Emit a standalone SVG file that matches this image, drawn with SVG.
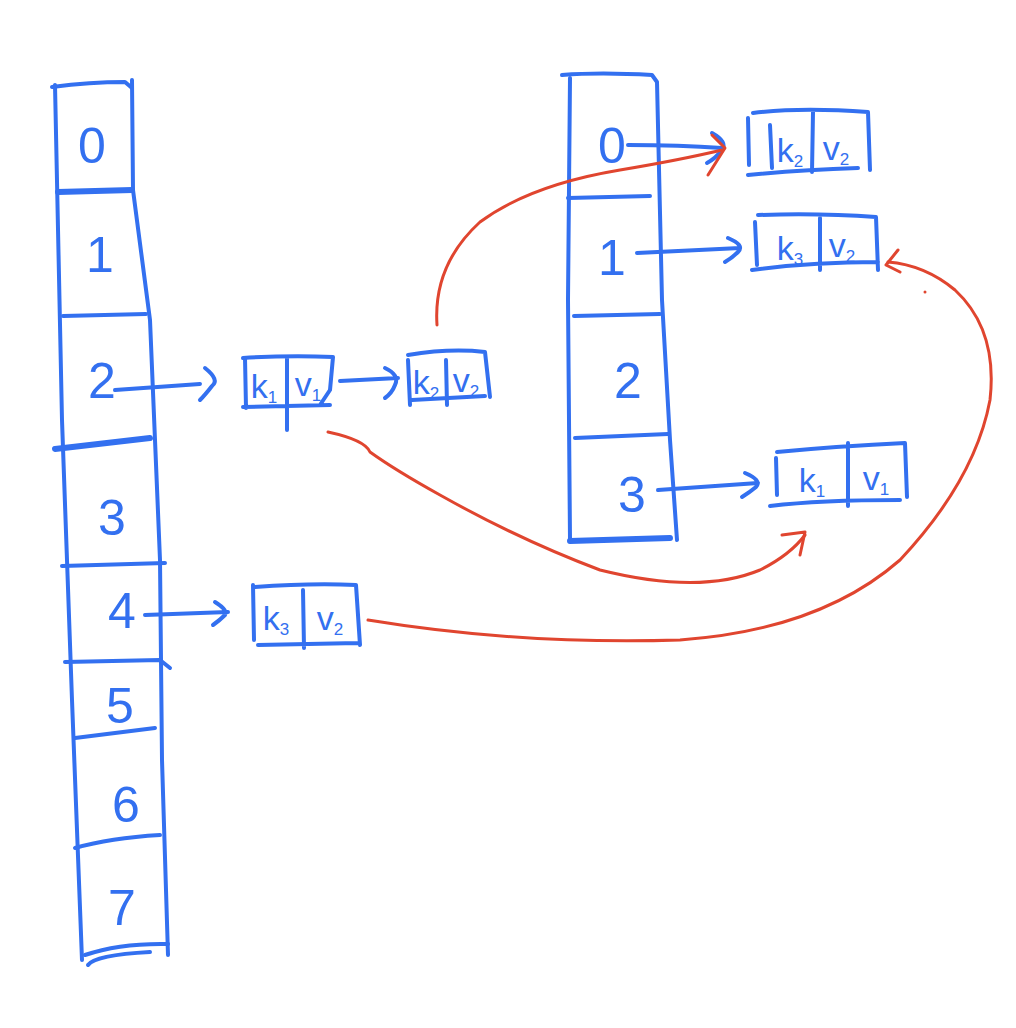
<svg xmlns="http://www.w3.org/2000/svg" width="1016" height="1028" viewBox="0 0 1016 1028">
<style>
.b{fill:none;stroke:#3370f0;stroke-width:4;stroke-linecap:round;stroke-linejoin:round}
.bt{fill:none;stroke:#3370f0;stroke-width:6;stroke-linecap:round}
.r{fill:none;stroke:#e0452f;stroke-width:3;stroke-linecap:round;stroke-linejoin:round}
.d{font-family:"Liberation Sans","DejaVu Sans",sans-serif;font-size:50px;fill:#3370f0;text-anchor:middle}
.k{font-family:"Liberation Sans","DejaVu Sans",sans-serif;font-size:34px;fill:#3370f0;text-anchor:middle}
.s{font-size:17px}
</style>
<rect width="1016" height="1028" fill="#fff"/>
<g id="left-array">
<path class="b" d="M52 87 Q90 82 125 82 L132 88"/>
<path class="b" d="M55 85 L62 420 L72 700 L82 960"/>
<path class="b" d="M132 80 L133 190 L150 320 L160 560 L162 760 L168 955"/>
<path class="bt" d="M58 192 L132 190"/>
<path class="b" d="M63 316 L146 314"/>
<path class="bt" d="M55 449 L150 438"/>
<path class="b" d="M62 566 L165 563"/>
<path class="b" d="M65 662 L160 660 L170 668"/>
<path class="b" d="M75 738 L155 728"/>
<path class="b" d="M75 848 Q110 838 160 835"/>
<path class="b" d="M85 955 Q120 943 168 944"/>
<path class="b" d="M88 965 Q95 955 150 952"/>
<text class="d" x="92" y="163">0</text>
<text class="d" x="100" y="272">1</text>
<text class="d" x="102" y="398">2</text>
<text class="d" x="112" y="535">3</text>
<text class="d" x="122" y="628">4</text>
<text class="d" x="120" y="723">5</text>
<text class="d" x="126" y="822">6</text>
<text class="d" x="122" y="925">7</text>
</g>
<g id="right-array">
<path class="b" d="M562 75 Q600 72 652 75 L657 82 L662 300 L670 440 L677 540"/>
<path class="b" d="M570 78 L568 300 L570 540"/>
<path class="b" d="M568 198 L650 196"/>
<path class="b" d="M574 316 L660 314"/>
<path class="b" d="M575 438 L668 434"/>
<path class="bt" d="M570 541 L670 538"/>
<text class="d" x="612" y="163">0</text>
<text class="d" x="612" y="275">1</text>
<text class="d" x="628" y="398">2</text>
<text class="d" x="632" y="512">3</text>
</g>
<g id="l-k1v1">
<path class="b" d="M243 358 Q290 355 333 357 L330 390 Q320 405 320 405 M245 358 L246 408 M243 407 L330 405 M287 358 L287 430"/>
<text class="k" x="264" y="398">k<tspan class="s" dy="5">1</tspan></text>
<text class="k" x="308" y="396">v<tspan class="s" dy="5">1</tspan></text>
</g>
<g id="l-k2v2">
<path class="b" d="M408 355 Q450 348 485 352 L490 397 M408 360 L410 405 M412 400 L485 396 M446 360 L447 405"/>
<text class="k" x="426" y="394">k<tspan class="s" dy="5">2</tspan></text>
<text class="k" x="466" y="392">v<tspan class="s" dy="5">2</tspan></text>
</g>
<g id="l-k3v2">
<path class="b" d="M255 587 Q310 583 356 585 L360 645 M253 585 L254 640 M258 645 L358 643 M303 590 L304 648"/>
<text class="k" x="276" y="630">k<tspan class="s" dy="5">3</tspan></text>
<text class="k" x="330" y="630">v<tspan class="s" dy="5">2</tspan></text>
</g>
<g id="r-k2v2">
<path class="b" d="M753 113 Q800 107 868 112 L870 170 M748 118 L749 165 M748 175 Q800 170 858 168 M813 112 L812 172 M770 125 L772 168"/>
<text class="k" x="790" y="162">k<tspan class="s" dy="5">2</tspan></text>
<text class="k" x="836" y="160">v<tspan class="s" dy="5">2</tspan></text>
</g>
<g id="r-k3v2">
<path class="b" d="M758 215 Q820 213 876 217 L878 270 M755 222 L757 265 M752 270 Q810 262 878 262 M820 218 L820 270"/>
<text class="k" x="790" y="260">k<tspan class="s" dy="5">3</tspan></text>
<text class="k" x="842" y="257">v<tspan class="s" dy="5">2</tspan></text>
</g>
<g id="r-k1v1">
<path class="b" d="M777 452 Q840 446 905 443 L907 497 M776 458 L777 495 M770 506 Q820 500 900 500 M848 443 L848 506"/>
<text class="k" x="812" y="492">k<tspan class="s" dy="5">1</tspan></text>
<text class="k" x="876" y="490">v<tspan class="s" dy="5">1</tspan></text>
</g>
<g id="connectors">
<path class="b" d="M115 390 L200 384 M205 368 Q220 380 212 386 Q205 395 200 400"/>
<path class="b" d="M340 381 L398 378 M385 368 Q400 375 395 385 Q392 393 385 398"/>
<path class="b" d="M145 615 L228 612 M215 602 Q228 610 225 615 Q220 620 213 625"/>
<path class="b" d="M628 145 Q680 145 722 148 M712 133 Q728 142 722 150 Q716 158 707 163"/>
<path class="b" d="M637 253 L740 248 M728 238 Q745 245 738 252 Q732 258 725 262"/>
<path class="b" d="M658 490 L758 483 M745 473 Q762 480 756 487 Q750 492 742 497"/>
<path class="r" d="M437 325 Q433 265 480 222 Q530 185 620 170 Q680 160 722 150"/>
<path class="r" d="M712 135 L725 148 L708 175"/>
<path class="r" d="M328 432 Q365 440 370 452 Q395 470 440 495 Q520 540 600 570 Q700 595 760 570 Q790 555 805 535"/>
<path class="r" d="M782 535 L805 532 L800 555"/>
<path class="r" d="M368 620 Q520 645 680 640 Q820 630 900 560 Q975 480 990 400 Q998 330 955 290 Q925 265 888 262"/>
<path class="r" d="M898 250 L886 265 L900 272"/>
<circle cx="925" cy="292" r="1.5" fill="#e0452f"/>
</g>
</svg>
